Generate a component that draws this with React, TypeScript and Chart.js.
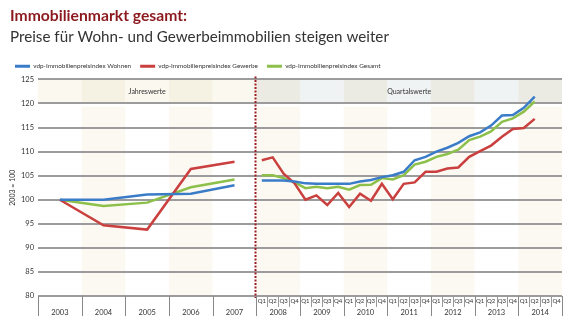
import React, { useEffect, useRef } from "react";
import { Chart, registerables } from "chart.js";

Chart.register(...registerables);

const titel = "Immobilienmarkt gesamt:";
const untertitel = "Preise für Wohn- und Gewerbeimmobilien steigen weiter";
const jahre = ["2003", "2004", "2005", "2006", "2007"];
const quartalsJahre = ["2008", "2009", "2010", "2011", "2012", "2013", "2014"];
const quartale = ["Q1", "Q2", "Q3", "Q4"];
const yTicks = [80, 85, 90, 95, 100, 105, 110, 115, 120, 125];

const wohnenJahr = [100, 100.0, 101.1, 101.25, 103.0];
const gewerbeJahr = [100, 94.7, 93.8, 106.4, 107.9];
const gesamtJahr = [100, 98.7, 99.4, 102.6, 104.2];

const wohnenQuartal = [104.0, 104.0, 104.0, 103.8, 103.4, 103.3, 103.3, 103.3, 103.3, 103.8, 104.1, 104.7, 105.1, 105.8, 108.2, 108.9, 110.0, 110.8, 111.8, 113.2, 114.0, 115.4, 117.5, 117.6, 119.1, 121.4];
const gewerbeQuartal = [108.2, 108.8, 105.4, 103.4, 100.0, 100.9, 98.9, 101.4, 98.5, 101.25, 99.8, 103.3, 100.1, 103.3, 103.6, 105.8, 105.8, 106.5, 106.7, 108.9, 110.1, 111.25, 113.1, 114.7, 114.9, 116.8];
const gesamtQuartal = [105.1, 105.1, 104.5, 103.6, 102.4, 102.7, 102.4, 102.7, 102.1, 103.05, 103.1, 104.5, 104.2, 105.1, 107.3, 107.9, 108.9, 109.5, 110.4, 112.4, 113.1, 114.2, 116.2, 116.9, 118.3, 120.4];

const serien = [
  { label: "vdp-Immobilienpreisindex Wohnen", jahr: wohnenJahr, quartal: wohnenQuartal, color: "#3a7cc8" },
  { label: "vdp-Immobilienpreisindex Gewerbe", jahr: gewerbeJahr, quartal: gewerbeQuartal, color: "#c9403f" },
  { label: "vdp-Immobilienpreisindex Gesamt", jahr: gesamtJahr, quartal: gesamtQuartal, color: "#8cc04b" },
];

const FONT = "Lato, 'DejaVu Sans', sans-serif";

function buildPoints(jahr: number[], quartal: number[]) {
  const pts: { x: number; y: number | null }[] = [];
  jahr.forEach((v, i) => pts.push({ x: i + 0.5, y: v }));
  pts.push({ x: jahre.length, y: null });
  quartal.forEach((v, j) => pts.push({ x: jahre.length + (j + 0.5) / 4, y: v }));
  return pts;
}

const decorPlugin = {
  id: "decor",
  beforeDraw(chart: any) {
    const { ctx, scales } = chart;
    const x = scales.x, y = scales.y;
    const top = y.getPixelForValue(125);
    const hb = y.getPixelForValue(120);
    const bottom = y.getPixelForValue(80);
    const total = jahre.length + quartalsJahre.length;
    ctx.save();
    for (let i = 0; i < total; i++) {
      const x0 = x.getPixelForValue(i);
      const x1 = x.getPixelForValue(i + 1);
      const annual = i < jahre.length;
      let head: string, body: string;
      if (annual) {
        head = i % 2 === 0 ? "#fbf8ef" : "#f5f1e3";
        body = i % 2 === 0 ? "#ffffff" : "#fcf9f2";
      } else {
        const k = i - jahre.length;
        head = k % 2 === 0 ? "#ebebe4" : "#f0f3f3";
        body = k % 2 === 0 ? "#fcf9f2" : "#ffffff";
      }
      ctx.fillStyle = head;
      ctx.fillRect(x0, top, x1 - x0, hb - top);
      ctx.fillStyle = body;
      ctx.fillRect(x0, hb + 3, x1 - x0, bottom - hb - 3);
    }
    ctx.textAlign = "left";
    ctx.textBaseline = "alphabetic";
    ctx.fillStyle = "#8b1a1f";
    ctx.font = "bold 15.7px " + FONT;
    ctx.fillText(titel, 10, 21);
    ctx.fillStyle = "#333333";
    ctx.font = "15.2px " + FONT;
    ctx.fillText(untertitel, 10, 42);
    ctx.restore();
  },
  afterDraw(chart: any) {
    const { ctx, scales } = chart;
    const x = scales.x, y = scales.y;
    const top = y.getPixelForValue(125);
    const hb = y.getPixelForValue(120);
    const bottom = y.getPixelForValue(80);
    ctx.save();
    ctx.fillStyle = "#333";
    ctx.font = "7px " + FONT;
    ctx.textAlign = "center";
    ctx.textBaseline = "middle";
    const midH = (top + hb) / 2;
    ctx.fillText("Jahreswerte", (x.getPixelForValue(0) + x.getPixelForValue(jahre.length)) / 2, midH);
    ctx.fillText("Quartalswerte", (x.getPixelForValue(jahre.length) + x.getPixelForValue(jahre.length + quartalsJahre.length)) / 2, midH);

    const xs = Math.round(x.getPixelForValue(jahre.length)) - 0.5;
    ctx.strokeStyle = "#9e1c22";
    ctx.lineWidth = 2;
    ctx.setLineDash([2, 1.5]);
    ctx.beginPath();
    ctx.moveTo(xs, top - 3);
    ctx.lineTo(xs, bottom + 2);
    ctx.stroke();
    ctx.setLineDash([]);

    const yearY = bottom + 17;
    const sepBottom = bottom + 20;
    ctx.lineWidth = 1;
    ctx.strokeStyle = "#888";
    ctx.fillStyle = "#333";
    ctx.font = "7.5px " + FONT;
    for (let i = 0; i <= jahre.length + quartalsJahre.length; i++) {
      const px = Math.round(x.getPixelForValue(i)) + 0.5;
      ctx.beginPath();
      ctx.moveTo(px, bottom);
      ctx.lineTo(px, sepBottom);
      ctx.stroke();
    }
    jahre.forEach((lab, i) => {
      ctx.fillText(lab, x.getPixelForValue(i + 0.5), yearY);
    });
    quartalsJahre.forEach((lab, k) => {
      ctx.fillText(lab, x.getPixelForValue(jahre.length + k + 0.5), yearY);
    });
    ctx.font = "6px " + FONT;
    ctx.strokeStyle = "#999";
    quartalsJahre.forEach((_, k) => {
      quartale.forEach((q, j) => {
        const v0 = jahre.length + k + j / 4;
        if (j > 0) {
          const px = Math.round(x.getPixelForValue(v0)) + 0.5;
          ctx.beginPath();
          ctx.moveTo(px, bottom);
          ctx.lineTo(px, bottom + 11);
          ctx.stroke();
        }
        ctx.fillText(q, x.getPixelForValue(v0 + 0.125), bottom + 5.5);
      });
    });
    ctx.restore();
  },
};

export default function App() {
  const ref = useRef<HTMLCanvasElement | null>(null);
  useEffect(() => {
    document.body.style.margin = "0";
    if (!ref.current) return;
    const chart = new Chart(ref.current, {
      type: "line",
      data: {
        datasets: serien.map((s) => ({
          label: s.label,
          data: buildPoints(s.jahr, s.quartal),
          borderColor: s.color,
          backgroundColor: s.color,
          borderWidth: 2.5,
          pointRadius: 0,
          tension: 0,
          spanGaps: false,
        })),
      },
      options: {
        animation: false,
        responsive: false,
        devicePixelRatio: 1,
        layout: { padding: { top: 54, left: 6, right: 10, bottom: 0 } },
        plugins: {
          tooltip: { enabled: false },
          title: { display: false },
          legend: {
            display: true,
            align: "start",
            labels: {
              boxWidth: 15,
              boxHeight: 3,
              padding: 9,
              color: "#333",
              font: { family: FONT, size: 6.4 },
              generateLabels: (c: any) =>
                (Chart.defaults.plugins.legend.labels as any).generateLabels(c).map((l: any) => ({ ...l, lineWidth: 0 })),
            },
          },
        },
        scales: {
          x: {
            type: "linear",
            min: 0,
            max: jahre.length + quartalsJahre.length,
            ticks: { display: false },
            grid: { display: false },
            border: { display: false },
            afterFit: (s: any) => {
              s.height = 31;
            },
          },
          y: {
            min: 80,
            max: 125,
            afterBuildTicks: (s: any) => {
              s.ticks = yTicks.map((v) => ({ value: v }));
            },
            ticks: { color: "#333", padding: 4, font: { family: FONT, size: 7.5 } },
            grid: { color: "#9c9c9c", lineWidth: 2, drawTicks: false },
            border: { display: false },
            title: {
              display: true,
              text: "2003 = 100",
              color: "#333",
              font: { family: FONT, size: 7 },
              padding: { top: 3, bottom: 0 },
            },
            afterFit: (s: any) => {
              s.width = 32;
            },
          },
        },
      },
      plugins: [decorPlugin],
    });
    return () => chart.destroy();
  }, []);
  return (
    <div style={{ width: 572, height: 327 }}>
      <canvas ref={ref} width={572} height={327} style={{ display: "block" }} />
    </div>
  );
}
